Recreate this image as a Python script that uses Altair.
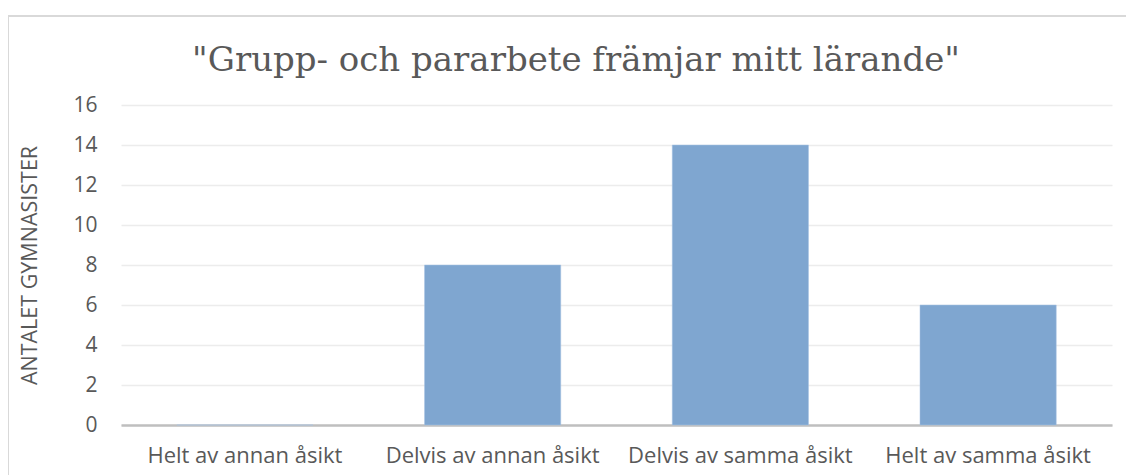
import altair as alt
import pandas as pd

categories = ["Helt av annan åsikt", "Delvis av annan åsikt", "Delvis av samma åsikt", "Helt av samma åsikt"]
values = [0, 8, 14, 6]
y_ticks = [0, 2, 4, 6, 8, 10, 12, 14, 16]
title_text = '"Grupp- och pararbete främjar mitt lärande"'

df = pd.DataFrame({"kategori": categories, "antal": values})

W, H = 991, 320
PL, PT = 113, 97

bars = alt.Chart(df).mark_bar(color="#7fa6d0", stroke="#a9c4e4", strokeWidth=0.5).encode(
    x=alt.X("kategori:N", sort=categories, title=None,
            scale=alt.Scale(paddingInner=0.45, paddingOuter=0.225),
            axis=alt.Axis(labelAngle=0, labelFont="Open Sans", labelFontSize=22, labelLimit=0,
                          labelColor="#595959", labelPadding=20, ticks=False,
                          domainColor="#bfbfbf", domainWidth=2.5, grid=False)),
    y=alt.Y("antal:Q", title="ANTALET GYMNASISTER",
            scale=alt.Scale(domain=[0, 16]),
            axis=alt.Axis(values=y_ticks, labelFont="Open Sans", labelFontSize=21,
                          labelColor="#595959", labelPadding=24, ticks=False, domain=False,
                          gridColor="#ececec", gridWidth=1.3,
                          titleFont="Open Sans", titleFontSize=21.5, titleFontWeight="normal",
                          titleColor="#595959", titlePadding=31)),
)

border = alt.Chart(pd.DataFrame({"a": [0]})).mark_rect(
    fill=None, stroke="#d9d9d9", strokeWidth=2
).encode(
    x=alt.value(-PL), x2=alt.value(W + 40), y=alt.value(-PT + 8), y2=alt.value(H + 80)
)

title = alt.Chart(pd.DataFrame({"t": [title_text]})).mark_text(
    font="DejaVu Serif", fontSize=34, color="#595959", align="center", baseline="alphabetic"
).encode(
    text="t:N", x=alt.value(455), y=alt.value(-34)
)

chart = alt.layer(border, bars, title).properties(
    width=W, height=H,
    autosize=alt.AutoSizeParams(type="none"),
    padding={"left": PL, "top": PT, "right": 14, "bottom": 50},
).configure(background="white").configure_view(stroke=None)

chart.save("out.html", embed_options={"renderer": "svg", "actions": False})
